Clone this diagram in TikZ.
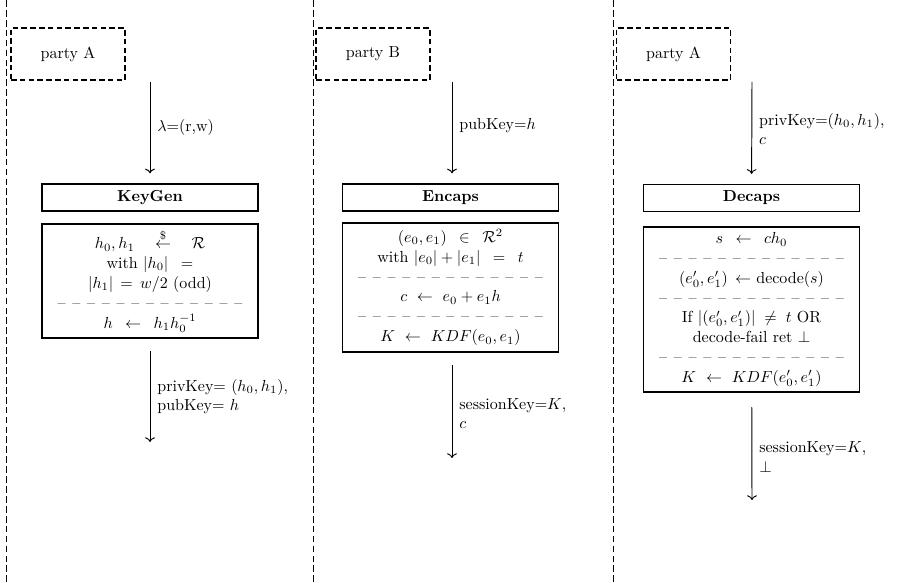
\documentclass[tikz,border=0pt]{standalone}
\usepackage{amsmath}
\usetikzlibrary{arrows.meta}

% row of separator dashes used inside the algorithm boxes
\newcommand\sepdashes{\mbox{--\hspace{4.2pt}--\hspace{4.2pt}--\hspace{4.2pt}--\hspace{4.2pt}--\hspace{4.2pt}--\hspace{4.2pt}--\hspace{4.2pt}--\hspace{4.2pt}--\hspace{4.2pt}--\hspace{4.2pt}--\hspace{4.2pt}--\hspace{4.2pt}--}}

\tikzset{
  lane/.style={line width=0.6pt, dash pattern=on 4.2pt off 2pt},
  partybox/.style={draw, line width=0.7pt, dash pattern=on 3.5pt off 2pt,
    minimum width=71.25pt, minimum height=32.5pt, inner sep=0pt},
  titlebox/.style={draw, line width=0.8pt, minimum width=135pt,
    minimum height=16.9pt, inner sep=0pt, font=\bfseries},
  bodybox/.style={draw, line width=0.8pt, minimum width=135pt, inner sep=0pt,
    align=center, font=\fontsize{10pt}{12.4pt}\selectfont},
  flow/.style={->, line width=0.6pt},
  lbl/.style={right, align=left, xshift=1pt}
}

\begin{document}
\begin{tikzpicture}[x=0.625pt, y=-0.625pt]
\useasboundingbox (0,0) rectangle (901,583);

% lanes
\draw[lane] (6,0) -- (6,583);
\draw[lane] (313,0) -- (313,583);
\draw[lane] (613,0) -- (613,583);

% parties
\node[partybox] (pa1) at (68,54) {party A};
\node[partybox] (pb)  at (373,54) {party B};
\node[partybox] (pa2) at (673.5,54) {party A};

% column 1: key generation
\node[titlebox] (kgtitle) at (150,197.5) {KeyGen};
\node[bodybox, minimum height=71.25pt] (kgbody) at (150,281) {%
  $h_0,h_1\quad\stackrel{\$}{\leftarrow}\quad\mathcal{R}$\\
  with $|h_0|\enspace=$\\
  $|h_1|\,=\,w/2$ (odd)\\
  \sepdashes\\
  $h\enspace\leftarrow\enspace h_1h_0^{-1}$};

% column 2: encapsulation
\node[titlebox] (entitle) at (450.5,197.5) {Encaps};
\node[bodybox, minimum height=80.6pt] (enbody) at (450.5,287.5) {%
  $(e_0,e_1)\enspace\in\enspace\mathcal{R}^2$\\
  with $|e_0|+|e_1|\enspace=\enspace t$\\
  \sepdashes\\
  $c\ \leftarrow\ e_0+e_1h$\\
  \sepdashes\\
  $K\ \leftarrow\ KDF(e_0,e_1)$};

% column 3: decapsulation
\node[titlebox] (detitle) at (751.5,198) {Decaps};
\node[bodybox, minimum height=103.1pt] (debody) at (751.5,309.5) {%
  $s\enspace\leftarrow\enspace ch_0$\\
  \sepdashes\\
  $(e_0',e_1')\,\leftarrow$ decode$(s)$\\
  \sepdashes\\
  If $|(e_0',e_1')|\;\neq\;t$ OR\\
  decode-fail ret $\perp$\\
  \sepdashes\\
  $K\ \leftarrow\ KDF(e_0',e_1')$};

% free ends of the flows
\coordinate (in1) at (150,82);
\coordinate (in2) at (452,82);
\coordinate (in3) at (752,82);
\coordinate (out1) at (150,442);
\coordinate (out2) at (452,458);
\coordinate (out3) at (752,500);

% inputs
\draw[flow, shorten >=6.25pt] (in1) -- (kgtitle)
  node[lbl, pos=0.45] {$\lambda$=(r,w)};
\draw[flow, shorten >=6.25pt] (in2) -- (in2 |- entitle.north)
  node[lbl, pos=0.43] {pubKey=$h$};
\draw[flow, shorten >=6.25pt] (in3) -- (detitle)
  node[lbl, pos=0.46] {privKey=$(h_0,h_1)$,\\$c$};

% outputs
\draw[flow, shorten <=7.5pt] (kgbody) -- (out1)
  node[lbl, pos=0.56] {privKey= $(h_0,h_1)$,\\pubKey= $h$};
\draw[flow, shorten <=7.5pt] (out2 |- enbody.south) -- (out2)
  node[lbl, pos=0.58] {sessionKey=$K$,\\$c$};
\draw[flow, shorten <=9pt] (debody) -- (out3)
  node[lbl, pos=0.6] {sessionKey=$K$,\\$\perp$};
\end{tikzpicture}
\end{document}
